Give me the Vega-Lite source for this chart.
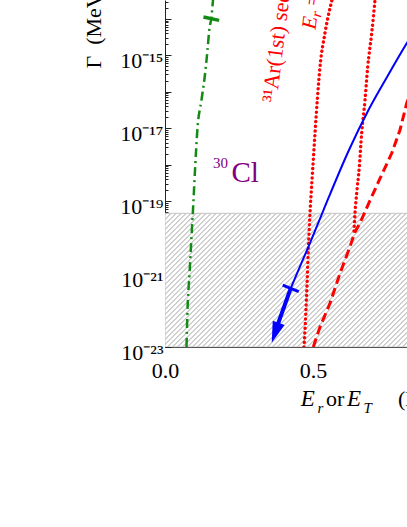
{
"$schema":"https://vega.github.io/schema/vega-lite/v6.json",
"autosize":{"type":"none"},
"padding":{"left":165,"top":0,"right":0,"bottom":180},
"width":242,"height":347,
"background":"white",
"config":{"view":{"stroke":null}},
"datasets":{
"curves":[
{"s":"cl30","e":0.0726,"g":1e-23},{"s":"cl30","e":0.0760,"g":1.035e-22},{"s":"cl30","e":0.0828,"g":1.005e-21},{"s":"cl30","e":0.0895,"g":1.04e-20},{"s":"cl30","e":0.0963,"g":1.076e-19},{"s":"cl30","e":0.1014,"g":7.16e-19},{"s":"cl30","e":0.1098,"g":1.016e-17},{"s":"cl30","e":0.1233,"g":5.96e-17},{"s":"cl30","e":0.1368,"g":3.95e-16},{"s":"cl30","e":0.1436,"g":1.40e-15},{"s":"cl30","e":0.1503,"g":5.61e-15},{"s":"cl30","e":0.1564,"g":1.014e-14},{"s":"cl30","e":0.1622,"g":3.3e-14},
{"s":"ar31a","e":0.4696,"g":1e-23},{"s":"ar31a","e":0.4757,"g":8.57e-23},{"s":"ar31a","e":0.4804,"g":6.887e-22},{"s":"ar31a","e":0.4845,"g":5.53e-21},{"s":"ar31a","e":0.4899,"g":4.73e-20},{"s":"ar31a","e":0.4966,"g":3.80e-19},{"s":"ar31a","e":0.5010,"g":1.346e-18},{"s":"ar31a","e":0.5068,"g":7.40e-18},{"s":"ar31a","e":0.5145,"g":5.96e-17},{"s":"ar31a","e":0.5236,"g":4.786e-16},{"s":"ar31a","e":0.5405,"g":4.09e-15},{"s":"ar31a","e":0.5507,"g":1.125e-14},{"s":"ar31a","e":0.5642,"g":3.3e-14},
{"s":"ar31b","e":0.6385,"g":1.52e-20},{"s":"ar31b","e":0.6419,"g":4.73e-20},{"s":"ar31b","e":0.6486,"g":2.03e-19},{"s":"ar31b","e":0.6564,"g":8.67e-19},{"s":"ar31b","e":0.6645,"g":7.41e-18},{"s":"ar31b","e":0.6757,"g":5.96e-17},{"s":"ar31b","e":0.6848,"g":4.80e-16},{"s":"ar31b","e":0.6983,"g":4.10e-15},{"s":"ar31b","e":0.7095,"g":3.3e-14},
{"s":"seq","e":0.5010,"g":1e-23},{"s":"seq","e":0.5236,"g":3.54e-23},{"s":"seq","e":0.5574,"g":1.58e-22},{"s":"seq","e":0.5912,"g":1.05e-21},{"s":"seq","e":0.6250,"g":5.64e-21},{"s":"seq","e":0.6419,"g":1.43e-20},{"s":"seq","e":0.6588,"g":2.52e-20},{"s":"seq","e":0.6926,"g":1.045e-19},{"s":"seq","e":0.7264,"g":4.19e-19},{"s":"seq","e":0.7659,"g":2.06e-18},{"s":"seq","e":0.7939,"g":8.97e-18},{"s":"seq","e":0.8166,"g":4.84e-17},{"s":"seq","e":0.8446,"g":2.11e-16},
{"s":"blue","e":0.4247,"g":4.07e-22},{"s":"blue","e":0.4655,"g":2.44e-21},{"s":"blue","e":0.4848,"g":5.64e-21},{"s":"blue","e":0.5311,"g":4.66e-20},{"s":"blue","e":0.5541,"g":1.327e-19},{"s":"blue","e":0.6216,"g":2.535e-18},{"s":"blue","e":0.6875,"g":3.17e-17},{"s":"blue","e":0.7507,"g":2.60e-16},{"s":"blue","e":0.8166,"g":2.14e-15},{"s":"blue","e":0.8446,"g":4.97e-15},
{"s":"arrow","e":0.3767,"g":3.32e-23},{"s":"arrow","e":0.4247,"g":4.07e-22}
],
"labels":[
{"k":"p1","t":"30","e":0.1622,"g":8.13e-19},
{"k":"p2","t":"Cl","e":0.2247,"g":3.36e-19},
{"k":"rr","t":"³¹Ar(1st) sequential","e":0.3764,"g":4.93e-17},
{"k":"rr","t":"=","e":0.5182,"g":2.19e-14},
{"k":"ri","t":"E","e":0.5084,"g":4.97e-15},
{"k":"rs","t":"r","e":0.5270,"g":1.072e-14},
{"k":"xi","t":"E","e":0.4584,"g":2.41e-25},
{"k":"xi","t":"E","e":0.6149,"g":2.41e-25},
{"k":"xs","t":"r","e":0.5152,"g":1.549e-25},
{"k":"xs","t":"T","e":0.6706,"g":1.549e-25},
{"k":"xu","t":"or","e":0.5439,"g":2.41e-25},
{"k":"xu","t":"(MeV)","e":0.7872,"g":2.41e-25}
]
},
"encoding":{
"x":{"field":"e","type":"quantitative","title":null,"scale":{"domain":[0,0.8176],"nice":false,"zero":false},
"axis":{"values":[0,0.25,0.5,0.75],"labelExpr":"datum.value==0?'0.0':(abs(datum.value-0.5)<0.001?'0.5':'')","tickSize":-4,"tickColor":"#333","domainColor":"#555","labelFont":"Liberation Serif","labelFontSize":22,"labelColor":"#000","labelBaseline":"alphabetic","labelPadding":34,"labelFlush":false,"labelOverlap":false,"labelBound":false,"grid":false}},
"y":{"field":"g","type":"quantitative","title":"Γ\u2002(MeV)","scale":{"type":"log","domain":[1e-23,3.3e-14],"nice":false},
"axis":{"values":[1e-23,2e-23,3e-23,4e-23,5e-23,6e-23,7e-23,8e-23,9e-23,1e-22,2e-22,3e-22,4e-22,5e-22,6e-22,7e-22,8e-22,9e-22,1e-21,2e-21,3e-21,4e-21,5e-21,6e-21,7e-21,8e-21,9e-21,1e-20,2e-20,3e-20,4e-20,5e-20,6e-20,7e-20,8e-20,9e-20,1e-19,2e-19,3e-19,4e-19,5e-19,6e-19,7e-19,8e-19,9e-19,1e-18,2e-18,3e-18,4e-18,5e-18,6e-18,7e-18,8e-18,9e-18,1e-17,2e-17,3e-17,4e-17,5e-17,6e-17,7e-17,8e-17,9e-17,1e-16,2e-16,3e-16,4e-16,5e-16,6e-16,7e-16,8e-16,9e-16,1e-15,2e-15,3e-15,4e-15,5e-15,6e-15,7e-15,8e-15,9e-15,1e-14,2e-14,3e-14],
"labelExpr":"datum.value>9.5e-24&&datum.value<1.05e-23?'10⁻²³':datum.value>9.5e-22&&datum.value<1.05e-21?'10⁻²¹':datum.value>9.5e-20&&datum.value<1.05e-19?'10⁻¹⁹':datum.value>9.5e-18&&datum.value<1.05e-17?'10⁻¹⁷':datum.value>9.5e-16&&datum.value<1.05e-15?'10⁻¹⁵':''",
"tickSize":{"condition":{"test":"abs(log(datum.value)/LN10-round(log(datum.value)/LN10))<0.01","value":-6},"value":-3},
"tickColor":"#222","domainColor":"#222","labelFont":"Liberation Serif","labelFontSize":22,"labelColor":"#000","labelBaseline":"alphabetic","labelOffset":12,"labelPadding":8,"labelOverlap":false,"labelFlush":false,"labelBound":false,"grid":false,
"titleX":-65,"titleY":68,"titleAngle":-90,"titleAlign":"left","titleBaseline":"alphabetic","titleFont":"Liberation Serif","titleFontSize":22,"titleFontWeight":"normal","titleColor":"#000"}}
},
"layer":[
{"data":{"values":[{"e":0,"e2":0.83,"g":1e-23,"g2":4.64e-20}]},
"mark":{"type":"rect","clip":true,"stroke":"#c4c4c4","strokeWidth":1,
"fill":{"gradient":"linear","x1":0,"y1":0,"x2":1.2562,"y2":0.6835,"stops":[
{"offset":0,"color":"#fff"},{"offset":0.0028,"color":"#aaa"},{"offset":0.0056,"color":"#fff"},{"offset":0.0125,"color":"#fff"},{"offset":0.0153,"color":"#aaa"},{"offset":0.0181,"color":"#fff"},{"offset":0.025,"color":"#fff"},{"offset":0.0278,"color":"#aaa"},{"offset":0.0306,"color":"#fff"},{"offset":0.0375,"color":"#fff"},{"offset":0.0403,"color":"#aaa"},{"offset":0.0431,"color":"#fff"},{"offset":0.05,"color":"#fff"},{"offset":0.0528,"color":"#aaa"},{"offset":0.0556,"color":"#fff"},{"offset":0.0625,"color":"#fff"},{"offset":0.0653,"color":"#aaa"},{"offset":0.0681,"color":"#fff"},{"offset":0.075,"color":"#fff"},{"offset":0.0778,"color":"#aaa"},{"offset":0.0806,"color":"#fff"},{"offset":0.0875,"color":"#fff"},{"offset":0.0903,"color":"#aaa"},{"offset":0.0931,"color":"#fff"},
{"offset":0.1,"color":"#fff"},{"offset":0.1028,"color":"#aaa"},{"offset":0.1056,"color":"#fff"},{"offset":0.1125,"color":"#fff"},{"offset":0.1153,"color":"#aaa"},{"offset":0.1181,"color":"#fff"},{"offset":0.125,"color":"#fff"},{"offset":0.1278,"color":"#aaa"},{"offset":0.1306,"color":"#fff"},{"offset":0.1375,"color":"#fff"},{"offset":0.1403,"color":"#aaa"},{"offset":0.1431,"color":"#fff"},{"offset":0.15,"color":"#fff"},{"offset":0.1528,"color":"#aaa"},{"offset":0.1556,"color":"#fff"},{"offset":0.1625,"color":"#fff"},{"offset":0.1653,"color":"#aaa"},{"offset":0.1681,"color":"#fff"},{"offset":0.175,"color":"#fff"},{"offset":0.1778,"color":"#aaa"},{"offset":0.1806,"color":"#fff"},{"offset":0.1875,"color":"#fff"},{"offset":0.1903,"color":"#aaa"},{"offset":0.1931,"color":"#fff"},
{"offset":0.2,"color":"#fff"},{"offset":0.2028,"color":"#aaa"},{"offset":0.2056,"color":"#fff"},{"offset":0.2125,"color":"#fff"},{"offset":0.2153,"color":"#aaa"},{"offset":0.2181,"color":"#fff"},{"offset":0.225,"color":"#fff"},{"offset":0.2278,"color":"#aaa"},{"offset":0.2306,"color":"#fff"},{"offset":0.2375,"color":"#fff"},{"offset":0.2403,"color":"#aaa"},{"offset":0.2431,"color":"#fff"},{"offset":0.25,"color":"#fff"},{"offset":0.2528,"color":"#aaa"},{"offset":0.2556,"color":"#fff"},{"offset":0.2625,"color":"#fff"},{"offset":0.2653,"color":"#aaa"},{"offset":0.2681,"color":"#fff"},{"offset":0.275,"color":"#fff"},{"offset":0.2778,"color":"#aaa"},{"offset":0.2806,"color":"#fff"},{"offset":0.2875,"color":"#fff"},{"offset":0.2903,"color":"#aaa"},{"offset":0.2931,"color":"#fff"},
{"offset":0.3,"color":"#fff"},{"offset":0.3028,"color":"#aaa"},{"offset":0.3056,"color":"#fff"},{"offset":0.3125,"color":"#fff"},{"offset":0.3153,"color":"#aaa"},{"offset":0.3181,"color":"#fff"},{"offset":0.325,"color":"#fff"},{"offset":0.3278,"color":"#aaa"},{"offset":0.3306,"color":"#fff"},{"offset":0.3375,"color":"#fff"},{"offset":0.3403,"color":"#aaa"},{"offset":0.3431,"color":"#fff"},{"offset":0.35,"color":"#fff"},{"offset":0.3528,"color":"#aaa"},{"offset":0.3556,"color":"#fff"},{"offset":0.3625,"color":"#fff"},{"offset":0.3653,"color":"#aaa"},{"offset":0.3681,"color":"#fff"},{"offset":0.375,"color":"#fff"},{"offset":0.3778,"color":"#aaa"},{"offset":0.3806,"color":"#fff"},{"offset":0.3875,"color":"#fff"},{"offset":0.3903,"color":"#aaa"},{"offset":0.3931,"color":"#fff"},
{"offset":0.4,"color":"#fff"},{"offset":0.4028,"color":"#aaa"},{"offset":0.4056,"color":"#fff"},{"offset":0.4125,"color":"#fff"},{"offset":0.4153,"color":"#aaa"},{"offset":0.4181,"color":"#fff"},{"offset":0.425,"color":"#fff"},{"offset":0.4278,"color":"#aaa"},{"offset":0.4306,"color":"#fff"},{"offset":0.4375,"color":"#fff"},{"offset":0.4403,"color":"#aaa"},{"offset":0.4431,"color":"#fff"},{"offset":0.45,"color":"#fff"},{"offset":0.4528,"color":"#aaa"},{"offset":0.4556,"color":"#fff"},{"offset":0.4625,"color":"#fff"},{"offset":0.4653,"color":"#aaa"},{"offset":0.4681,"color":"#fff"},{"offset":0.475,"color":"#fff"},{"offset":0.4778,"color":"#aaa"},{"offset":0.4806,"color":"#fff"},{"offset":0.4875,"color":"#fff"},{"offset":0.4903,"color":"#aaa"},{"offset":0.4931,"color":"#fff"},
{"offset":0.5,"color":"#fff"},{"offset":0.5028,"color":"#aaa"},{"offset":0.5056,"color":"#fff"},{"offset":0.5125,"color":"#fff"},{"offset":0.5153,"color":"#aaa"},{"offset":0.5181,"color":"#fff"},{"offset":0.525,"color":"#fff"},{"offset":0.5278,"color":"#aaa"},{"offset":0.5306,"color":"#fff"},{"offset":0.5375,"color":"#fff"},{"offset":0.5403,"color":"#aaa"},{"offset":0.5431,"color":"#fff"},{"offset":0.55,"color":"#fff"},{"offset":0.5528,"color":"#aaa"},{"offset":0.5556,"color":"#fff"},{"offset":0.5625,"color":"#fff"},{"offset":0.5653,"color":"#aaa"},{"offset":0.5681,"color":"#fff"},{"offset":0.575,"color":"#fff"},{"offset":0.5778,"color":"#aaa"},{"offset":0.5806,"color":"#fff"},{"offset":0.5875,"color":"#fff"},{"offset":0.5903,"color":"#aaa"},{"offset":0.5931,"color":"#fff"},
{"offset":0.6,"color":"#fff"},{"offset":0.6028,"color":"#aaa"},{"offset":0.6056,"color":"#fff"},{"offset":0.6125,"color":"#fff"},{"offset":0.6153,"color":"#aaa"},{"offset":0.6181,"color":"#fff"},{"offset":0.625,"color":"#fff"},{"offset":0.6278,"color":"#aaa"},{"offset":0.6306,"color":"#fff"},{"offset":0.6375,"color":"#fff"},{"offset":0.6403,"color":"#aaa"},{"offset":0.6431,"color":"#fff"},{"offset":0.65,"color":"#fff"},{"offset":0.6528,"color":"#aaa"},{"offset":0.6556,"color":"#fff"},{"offset":0.6625,"color":"#fff"},{"offset":0.6653,"color":"#aaa"},{"offset":0.6681,"color":"#fff"},{"offset":0.675,"color":"#fff"},{"offset":0.6778,"color":"#aaa"},{"offset":0.6806,"color":"#fff"},{"offset":0.6875,"color":"#fff"},{"offset":0.6903,"color":"#aaa"},{"offset":0.6931,"color":"#fff"},
{"offset":0.7,"color":"#fff"},{"offset":0.7028,"color":"#aaa"},{"offset":0.7056,"color":"#fff"},{"offset":0.7125,"color":"#fff"},{"offset":0.7153,"color":"#aaa"},{"offset":0.7181,"color":"#fff"},{"offset":0.725,"color":"#fff"},{"offset":0.7278,"color":"#aaa"},{"offset":0.7306,"color":"#fff"},{"offset":0.7375,"color":"#fff"},{"offset":0.7403,"color":"#aaa"},{"offset":0.7431,"color":"#fff"},{"offset":0.75,"color":"#fff"},{"offset":0.7528,"color":"#aaa"},{"offset":0.7556,"color":"#fff"},{"offset":0.7625,"color":"#fff"},{"offset":0.7653,"color":"#aaa"},{"offset":0.7681,"color":"#fff"},{"offset":0.775,"color":"#fff"},{"offset":0.7778,"color":"#aaa"},{"offset":0.7806,"color":"#fff"},{"offset":0.7875,"color":"#fff"},{"offset":0.7903,"color":"#aaa"},{"offset":0.7931,"color":"#fff"},
{"offset":0.8,"color":"#fff"},{"offset":0.8028,"color":"#aaa"},{"offset":0.8056,"color":"#fff"},{"offset":0.8125,"color":"#fff"},{"offset":0.8153,"color":"#aaa"},{"offset":0.8181,"color":"#fff"},{"offset":0.825,"color":"#fff"},{"offset":0.8278,"color":"#aaa"},{"offset":0.8306,"color":"#fff"},{"offset":0.8375,"color":"#fff"},{"offset":0.8403,"color":"#aaa"},{"offset":0.8431,"color":"#fff"},{"offset":0.85,"color":"#fff"},{"offset":0.8528,"color":"#aaa"},{"offset":0.8556,"color":"#fff"},{"offset":0.8625,"color":"#fff"},{"offset":0.8653,"color":"#aaa"},{"offset":0.8681,"color":"#fff"},{"offset":0.875,"color":"#fff"},{"offset":0.8778,"color":"#aaa"},{"offset":0.8806,"color":"#fff"},{"offset":0.8875,"color":"#fff"},{"offset":0.8903,"color":"#aaa"},{"offset":0.8931,"color":"#fff"},
{"offset":0.9,"color":"#fff"},{"offset":0.9028,"color":"#aaa"},{"offset":0.9056,"color":"#fff"},{"offset":0.9125,"color":"#fff"},{"offset":0.9153,"color":"#aaa"},{"offset":0.9181,"color":"#fff"},{"offset":0.925,"color":"#fff"},{"offset":0.9278,"color":"#aaa"},{"offset":0.9306,"color":"#fff"},{"offset":0.9375,"color":"#fff"},{"offset":0.9403,"color":"#aaa"},{"offset":0.9431,"color":"#fff"},{"offset":0.95,"color":"#fff"},{"offset":1,"color":"#fff"}
]}},
"encoding":{"x2":{"field":"e2"},"y2":{"field":"g2"}}},
{"data":{"name":"curves"},"transform":[{"filter":"datum.s=='cl30'"}],"mark":{"type":"line","clip":true,"interpolate":"monotone","color":"#138a13","strokeWidth":2.5,"strokeDash":[9,4,2,4]}},
{"data":{"name":"curves"},"transform":[{"filter":"datum.s=='ar31a'||datum.s=='ar31b'"}],"mark":{"type":"line","clip":true,"interpolate":"monotone","color":"#ff0000","strokeWidth":3.4,"strokeCap":"round","strokeDash":[0.1,4.6]},"encoding":{"detail":{"field":"s"}}},
{"data":{"name":"curves"},"transform":[{"filter":"datum.s=='seq'"}],"mark":{"type":"line","clip":true,"color":"#ff0000","strokeWidth":3,"strokeDash":[9,4.5]}},
{"data":{"name":"curves"},"transform":[{"filter":"datum.s=='blue'"}],"mark":{"type":"line","clip":true,"interpolate":"monotone","color":"#0000ff","strokeWidth":2}},
{"data":{"name":"curves"},"transform":[{"filter":"datum.s=='arrow'"}],"mark":{"type":"line","clip":true,"color":"#0000ff","strokeWidth":4}},
{"data":{"values":[{"e":0.3723,"g":2.455e-23}]},"mark":{"type":"point","shape":"M0,1L-0.6,-1L0.6,-1Z","filled":true,"color":"#0000ff","size":441,"angle":19.4,"opacity":1}},
{"data":{"values":[{"e":0.4247,"g":4.07e-22}]},"mark":{"type":"point","shape":"stroke","color":"#0000ff","strokeWidth":3,"size":300,"angle":22,"opacity":1}},
{"data":{"values":[{"e":0.1564,"g":1.014e-14}]},"mark":{"type":"point","shape":"stroke","color":"#138a13","strokeWidth":3.5,"size":256,"angle":12,"opacity":1}},
{"data":{"name":"labels"},"transform":[{"filter":"datum.k=='p1'"}],"mark":{"type":"text","font":"Liberation Serif","fontSize":15,"color":"#800080","align":"left","baseline":"alphabetic"},"encoding":{"text":{"field":"t"}}},
{"data":{"name":"labels"},"transform":[{"filter":"datum.k=='p2'"}],"mark":{"type":"text","font":"Liberation Serif","fontSize":29,"color":"#800080","align":"left","baseline":"alphabetic"},"encoding":{"text":{"field":"t"}}},
{"data":{"name":"labels"},"transform":[{"filter":"datum.k=='rr'"}],"mark":{"type":"text","font":"Liberation Serif","fontSize":22,"color":"#ff0000","angle":277,"align":"left","baseline":"alphabetic"},"encoding":{"text":{"field":"t"}}},
{"data":{"name":"labels"},"transform":[{"filter":"datum.k=='ri'"}],"mark":{"type":"text","font":"Liberation Serif","fontSize":21,"fontStyle":"italic","color":"#ff0000","angle":277,"align":"left","baseline":"alphabetic"},"encoding":{"text":{"field":"t"}}},
{"data":{"name":"labels"},"transform":[{"filter":"datum.k=='rs'"}],"mark":{"type":"text","font":"Liberation Serif","fontSize":15,"fontStyle":"italic","color":"#ff0000","angle":277,"align":"left","baseline":"alphabetic"},"encoding":{"text":{"field":"t"}}},
{"data":{"name":"labels"},"transform":[{"filter":"datum.k=='xi'"}],"mark":{"type":"text","font":"Liberation Serif","fontSize":23,"fontStyle":"italic","color":"#000","align":"left","baseline":"alphabetic"},"encoding":{"text":{"field":"t"}}},
{"data":{"name":"labels"},"transform":[{"filter":"datum.k=='xs'"}],"mark":{"type":"text","font":"Liberation Serif","fontSize":15,"fontStyle":"italic","color":"#000","align":"left","baseline":"alphabetic"},"encoding":{"text":{"field":"t"}}},
{"data":{"name":"labels"},"transform":[{"filter":"datum.k=='xu'"}],"mark":{"type":"text","font":"Liberation Serif","fontSize":22,"color":"#000","align":"left","baseline":"alphabetic"},"encoding":{"text":{"field":"t"}}}
]
}
